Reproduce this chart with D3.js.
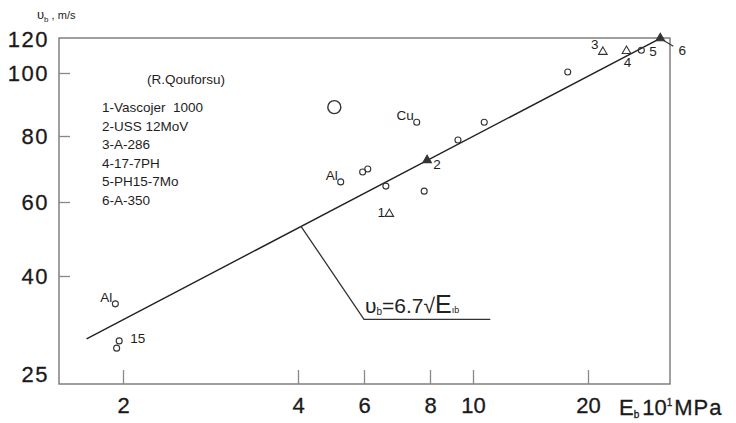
<!DOCTYPE html>
<html>
<head>
<meta charset="utf-8">
<title>ub vs Eb</title>
<script src="https://cdn.jsdelivr.net/npm/d3@7"></script>
<style>
  body { margin: 0; background: #fff; }
  svg { font-family: "Liberation Sans", Arial, sans-serif; }
  .axis text { font-size: 22px; fill: #1a1a1a; stroke: #1a1a1a; stroke-width: 0.3; }
  .axis line { stroke: #888; stroke-width: 1.3; }
  .note { font-size: 13.5px; fill: #1e1e1e; }
</style>
</head>
<body>
<script>
// tick labels
var xTicks = [2, 4, 6, 8, 10, 20];
var yTicks = [25, 40, 60, 80, 100, 120];

// small open circles (E, u)
var circleE = [7.55, 10.7, 9.25, 5.2, 5.95, 6.1, 6.6, 7.8, 17.7, 27.7, 1.94, 1.97, 1.95];
var circleU = [84, 84, 78.6, 65.5, 68.4, 69.3, 64.3, 62.9, 100.5, 113, 35, 29.3, 28.3];
// big circle
var bigE = [5.0];
var bigU = [88.6];

// steels (triangles)
var steelE = [6.7, 7.9, 21.9, 25.3, 31.1];
var steelU = [56.2, 72, 112, 112.5, 121];
var steelLabel = ["1", "2", "3", "4", "6"];

// fitted line ub = 6.7 sqrt(Eb)
var fitE = [1.73, 31.1];
var fitU = [29.6, 121];

// leader line to the formula
var leaderE = [4.07, 6.0, 11.1];
var leaderU = [52.6, 32.5, 32.5];

var legendLines = ["1-Vascojer  1000", "2-USS 12MoV", "3-A-286", "4-17-7PH", "5-PH15-7Mo", "6-A-350"];

var w = 736, h = 423;

// the printed axes are not evenly spaced, so the log scales are piecewise
var x = d3.scaleLog()
  .domain([1.55, 2, 4, 6, 8, 10, 20, 33])
  .range([59, 123, 298, 364, 430, 473, 588, 670]);

var y = d3.scaleLog()
  .domain([23.8, 25, 40, 60, 80, 100, 120, 121.5])
  .range([384, 374, 276, 202, 136, 73, 39, 38]);

var svg = d3.select("body").append("svg")
  .attr("width", w)
  .attr("height", h);

// frame
var xr = d3.extent(x.range()), yr = d3.extent(y.range());
svg.append("rect")
  .attr("x", xr[0]).attr("y", yr[0])
  .attr("width", xr[1] - xr[0]).attr("height", yr[1] - yr[0])
  .attr("fill", "none").attr("stroke", "#777").attr("stroke-width", 1.4);

var xAxis = d3.axisBottom(x).tickValues(xTicks).tickFormat(d3.format("d"))
  .tickSize(-14).tickPadding(13);
svg.append("g").attr("class", "axis")
  .attr("transform", "translate(0," + yr[1] + ")")
  .call(xAxis)
  .call(function(g){ g.select(".domain").remove(); });

var yAxis = d3.axisLeft(y).tickValues(yTicks).tickFormat(d3.format("d"))
  .tickSize(-11).tickPadding(10);
svg.append("g").attr("class", "axis")
  .attr("transform", "translate(" + xr[0] + ",0)")
  .call(yAxis)
  .call(function(g){
    g.select(".domain").remove();
    g.selectAll("text").attr("letter-spacing", 1.5);
    g.selectAll(".tick").filter(function(d){ return d == 25 || d == 120; })
      .select("line").remove();
  });

// axis titles
var yt = svg.append("text").attr("x", 37).attr("y", 19).attr("font-size", 11).attr("fill", "#222");
yt.append("tspan").attr("font-size", 13).text("υ");
yt.append("tspan").attr("font-size", 8).attr("dy", 3).text("b");
yt.append("tspan").attr("dy", -3).text(" , m/s");

var xt = svg.append("text").attr("x", 619).attr("y", 415).attr("font-size", 22)
  .attr("fill", "#1a1a1a").attr("stroke", "#1a1a1a").attr("stroke-width", 0.3);
xt.append("tspan").text("E");
xt.append("tspan").attr("font-size", 10).attr("dy", 3).text("b");
xt.append("tspan").attr("dy", -3).attr("dx", 3).text("10");
xt.append("tspan").attr("font-size", 10).attr("dy", -9).text("1");
xt.append("tspan").attr("dy", 9).attr("dx", 2).attr("letter-spacing", 1).text("MPa");

// fitted line
var line = d3.line().x(function(d){ return x(d[0]); }).y(function(d){ return y(d[1]); });
svg.append("path")
  .datum(d3.zip(fitE, fitU))
  .attr("d", line)
  .attr("fill", "none").attr("stroke", "#222").attr("stroke-width", 1.4);

svg.append("path")
  .datum(d3.zip(leaderE, leaderU))
  .attr("d", line)
  .attr("fill", "none").attr("stroke", "#333").attr("stroke-width", 1.3);

// formula
var ft = svg.append("text")
  .attr("x", x(leaderE[1]) + 1).attr("y", y(leaderU[1]) - 6)
  .attr("font-size", 21).attr("fill", "#222");
ft.append("tspan").text("υ");
ft.append("tspan").attr("font-size", 10).attr("dy", 2).text("b");
ft.append("tspan").attr("dy", -2).text("=6.7√");
ft.append("tspan").attr("font-size", 25).text("E");
ft.append("tspan").attr("font-size", 9).text("ıb");

// small circles
svg.selectAll("circle.pt")
  .data(d3.zip(circleE, circleU))
  .enter().append("circle")
  .attr("class", "pt")
  .attr("cx", function(d){ return x(d[0]); })
  .attr("cy", function(d){ return y(d[1]); })
  .attr("r", 3)
  .attr("fill", "none").attr("stroke", "#333").attr("stroke-width", 1.1);

svg.selectAll("circle.big")
  .data(d3.zip(bigE, bigU))
  .enter().append("circle")
  .attr("class", "big")
  .attr("cx", function(d){ return x(d[0]); })
  .attr("cy", function(d){ return y(d[1]); })
  .attr("r", 6.5)
  .attr("fill", "none").attr("stroke", "#333").attr("stroke-width", 1.4);

// element names next to circles (index into circle arrays)
var elemIdx = [0, 3, 10];
var elemName = ["Cu", "Al", "Al"];
svg.selectAll("text.elem")
  .data(elemIdx)
  .enter().append("text")
  .attr("class", "note")
  .attr("text-anchor", "end")
  .attr("x", function(d){ return x(circleE[d]) - 3; })
  .attr("y", function(d){ return y(circleU[d]) - 2; })
  .text(function(d, i){ return elemName[i]; });

// triangles
var tri = d3.symbol().type(d3.symbolTriangle).size(32);
svg.selectAll("path.steel")
  .data(d3.zip(steelE, steelU, steelLabel))
  .enter().append("path")
  .attr("class", "steel")
  .attr("transform", function(d){ return "translate(" + x(d[0]) + "," + y(d[1]) + ")"; })
  .attr("d", tri)
  .attr("fill", function(d){ return (d[2] == "2" || d[2] == "6") ? "#333" : "none"; })
  .attr("stroke", "#333").attr("stroke-width", 1.1);

var labOff = { "1": [-8, 3], "2": [10, 9], "3": [-8, -3], "4": [1, 16], "6": [22, 17] };
svg.selectAll("text.steel")
  .data(d3.zip(steelE, steelU, steelLabel))
  .enter().append("text")
  .attr("class", "note")
  .attr("font-size", 14)
  .attr("text-anchor", "middle")
  .attr("x", function(d){ return x(d[0]) + labOff[d[2]][0]; })
  .attr("y", function(d){ return y(d[1]) + labOff[d[2]][1]; })
  .text(function(d){ return d[2]; });

// leader for point 6
svg.append("line")
  .attr("x1", x(steelE[4]) + 3).attr("y1", y(steelU[4]) + 2)
  .attr("x2", x(steelE[4]) + 13).attr("y2", y(steelU[4]) + 8)
  .attr("stroke", "#333").attr("stroke-width", 1.1);

// label 5 for the small circle, label 15 for the paired circles
svg.append("text").attr("class", "note").attr("font-size", 14)
  .attr("x", x(circleE[9]) + 8).attr("y", y(circleU[9]) + 6).text("5");
svg.append("text").attr("class", "note").attr("font-size", 12.5)
  .attr("x", x(circleE[11]) + 11).attr("y", y(circleU[11]) + 2).text("15");

// notes
svg.append("text").attr("class", "note")
  .attr("x", 147).attr("y", 84).text("(R.Qouforsu)");

svg.selectAll("text.leg")
  .data(legendLines)
  .enter().append("text")
  .attr("class", "note")
  .attr("xml:space", "preserve")
  .attr("x", 102)
  .attr("y", function(d, i){ return 112 + i * 18.5; })
  .text(function(d){ return d; });
</script>
</body>
</html>
